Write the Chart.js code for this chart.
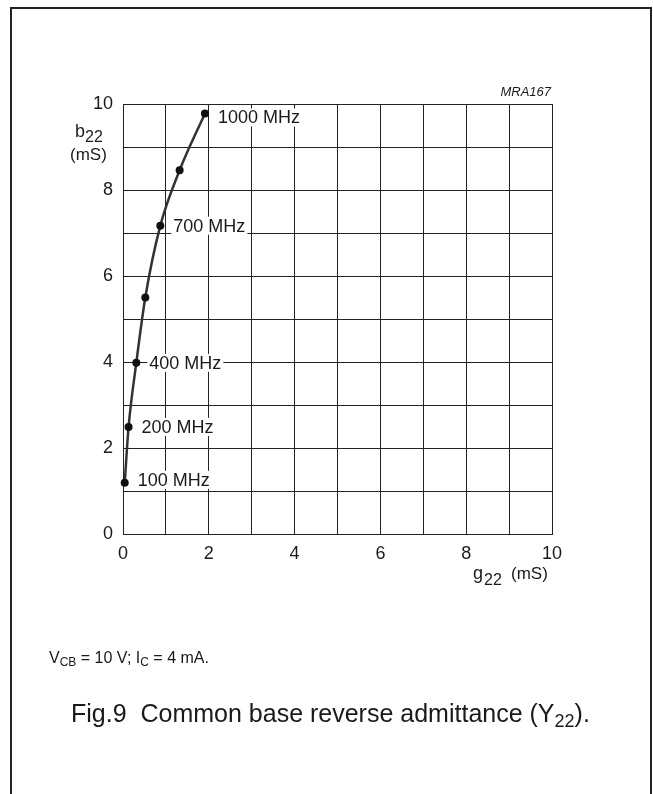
<!DOCTYPE html>
<html>
<head>
<meta charset="utf-8">
<script src="https://cdn.jsdelivr.net/npm/chart.js@4.4.1/dist/chart.umd.min.js"></script>
<style>
  html, body { margin: 0; padding: 0; background: #fff; }
  #wrap { width: 653px; height: 794px; position: relative; }
</style>
</head>
<body>
<div id="wrap"><canvas id="c" width="653" height="794"></canvas></div>
<script>
// ---- data ----
const gValues = [0.04, 0.13, 0.31, 0.52, 0.87, 1.32, 1.91];   // g22 (mS)
const bValues = [1.19, 2.49, 3.98, 5.50, 7.17, 8.46, 9.78];   // b22 (mS)
const freqLabels = ['100 MHz', '200 MHz', '400 MHz', '', '700 MHz', '', '1000 MHz'];
const xTickLabels = ['0', '2', '4', '6', '8', '10'];
const yTickLabels = ['0', '2', '4', '6', '8', '10'];

const FONT = '"Liberation Sans", Arial, Helvetica, sans-serif';
const INK = '#1a1a1a';
const GRID = '#222';

const decorPlugin = {
  id: 'decor',
  beforeDatasetsDraw(chart) {
    const ctx = chart.ctx;
    const xs = chart.scales.x, ys = chart.scales.y;
    ctx.save();
    ctx.font = '18px ' + FONT;
    ctx.textBaseline = 'middle';
    ctx.textAlign = 'left';
    for (let i = 0; i < gValues.length; i++) {
      const t = freqLabels[i];
      if (!t) continue;
      const px = xs.getPixelForValue(gValues[i]);
      const py = ys.getPixelForValue(bValues[i]);
      const tx = px + 13;
      const ty = py + (i === gValues.length - 1 ? 4 : 0) + (i === 0 ? -3 : 0);
      const w = ctx.measureText(t).width;
      ctx.fillStyle = '#fff';
      ctx.fillRect(tx - 2, ty - 9, w + 4, 18);
      ctx.fillStyle = INK;
      ctx.fillText(t, tx, ty + 1);
    }
    ctx.restore();
  },
  afterDraw(chart) {
    const ctx = chart.ctx;
    const xs = chart.scales.x;
    ctx.save();
    // outer frame
    ctx.strokeStyle = '#222';
    ctx.lineWidth = 2;
    ctx.beginPath();
    ctx.moveTo(11, 800);
    ctx.lineTo(11, 8);
    ctx.lineTo(651, 8);
    ctx.lineTo(651, 800);
    ctx.stroke();

    ctx.fillStyle = INK;
    ctx.textBaseline = 'alphabetic';
    ctx.textAlign = 'left';

    // MRA167
    ctx.font = 'italic 13px ' + FONT;
    ctx.textAlign = 'right';
    ctx.fillText('MRA167', xs.right - 1, 96);
    ctx.textAlign = 'left';

    // y axis title b22 (mS)
    ctx.font = '18px ' + FONT;
    ctx.fillText('b', 75, 137);
    let w = ctx.measureText('b').width;
    ctx.font = '16px ' + FONT;
    ctx.fillText('22', 75 + w, 142);
    ctx.font = '17px ' + FONT;
    ctx.fillText('(mS)', 70, 160);

    // x axis title g22 (mS)
    ctx.font = '18px ' + FONT;
    ctx.fillText('g', 473, 579);
    w = ctx.measureText('g').width;
    ctx.font = '16px ' + FONT;
    ctx.fillText('22', 473 + w + 1, 585);
    ctx.font = '17px ' + FONT;
    ctx.fillText('(mS)', 511, 579);

    // conditions
    let x = 49;
    const seg = (txt, size, dy) => {
      ctx.font = size + 'px ' + FONT;
      ctx.fillText(txt, x, 663 + dy);
      x += ctx.measureText(txt).width;
    };
    seg('V', 16, 0);
    seg('CB', 12, 3);
    seg(' = 10 V; I', 16, 0);
    seg('C', 12, 3);
    seg(' = 4 mA.', 16, 0);

    // caption
    x = 71;
    const seg2 = (txt, size, dy) => {
      ctx.font = size + 'px ' + FONT;
      ctx.fillText(txt, x, 722 + dy);
      x += ctx.measureText(txt).width;
    };
    seg2('Fig.9  Common base reverse admittance (Y', 25, 0);
    seg2('22', 18, 5);
    seg2(').', 25, 0);
    ctx.restore();
  }
};

const tickCb = (labels) => (v) => (labels.includes(String(v)) ? String(v) : '');

new Chart(document.getElementById('c'), {
  type: 'scatter',
  data: {
    datasets: [{
      data: gValues.map((g, i) => ({ x: g, y: bValues[i] })),
      showLine: true,
      clip: false,
      borderColor: '#333',
      borderWidth: 2.5,
      cubicInterpolationMode: 'monotone',
      pointRadius: 4,
      pointBackgroundColor: '#111',
      pointBorderColor: '#111',
      pointBorderWidth: 0
    }]
  },
  options: {
    responsive: false,
    animation: false,
    devicePixelRatio: 1,
    layout: { padding: { top: 104, right: 101, left: 0, bottom: 0 } },
    plugins: { legend: { display: false }, tooltip: { enabled: false } },
    scales: {
      x: {
        type: 'linear', min: 0, max: 10,
        afterFit(scale) { scale.height = 260; },
        grid: { color: GRID, lineWidth: 1, drawTicks: false },
        border: { color: GRID, width: 1 },
        ticks: {
          stepSize: 1, autoSkip: false, maxRotation: 0,
          color: INK, font: { family: FONT, size: 18 }, padding: 9,
          callback: tickCb(xTickLabels)
        }
      },
      y: {
        type: 'linear', min: 0, max: 10,
        afterFit(scale) { scale.width = 123; },
        grid: { color: GRID, lineWidth: 1, drawTicks: false },
        border: { color: GRID, width: 1 },
        ticks: {
          stepSize: 1, autoSkip: false,
          color: INK, font: { family: FONT, size: 18 }, padding: 10,
          callback: tickCb(yTickLabels)
        }
      }
    }
  },
  plugins: [decorPlugin]
});
</script>
</body>
</html>
